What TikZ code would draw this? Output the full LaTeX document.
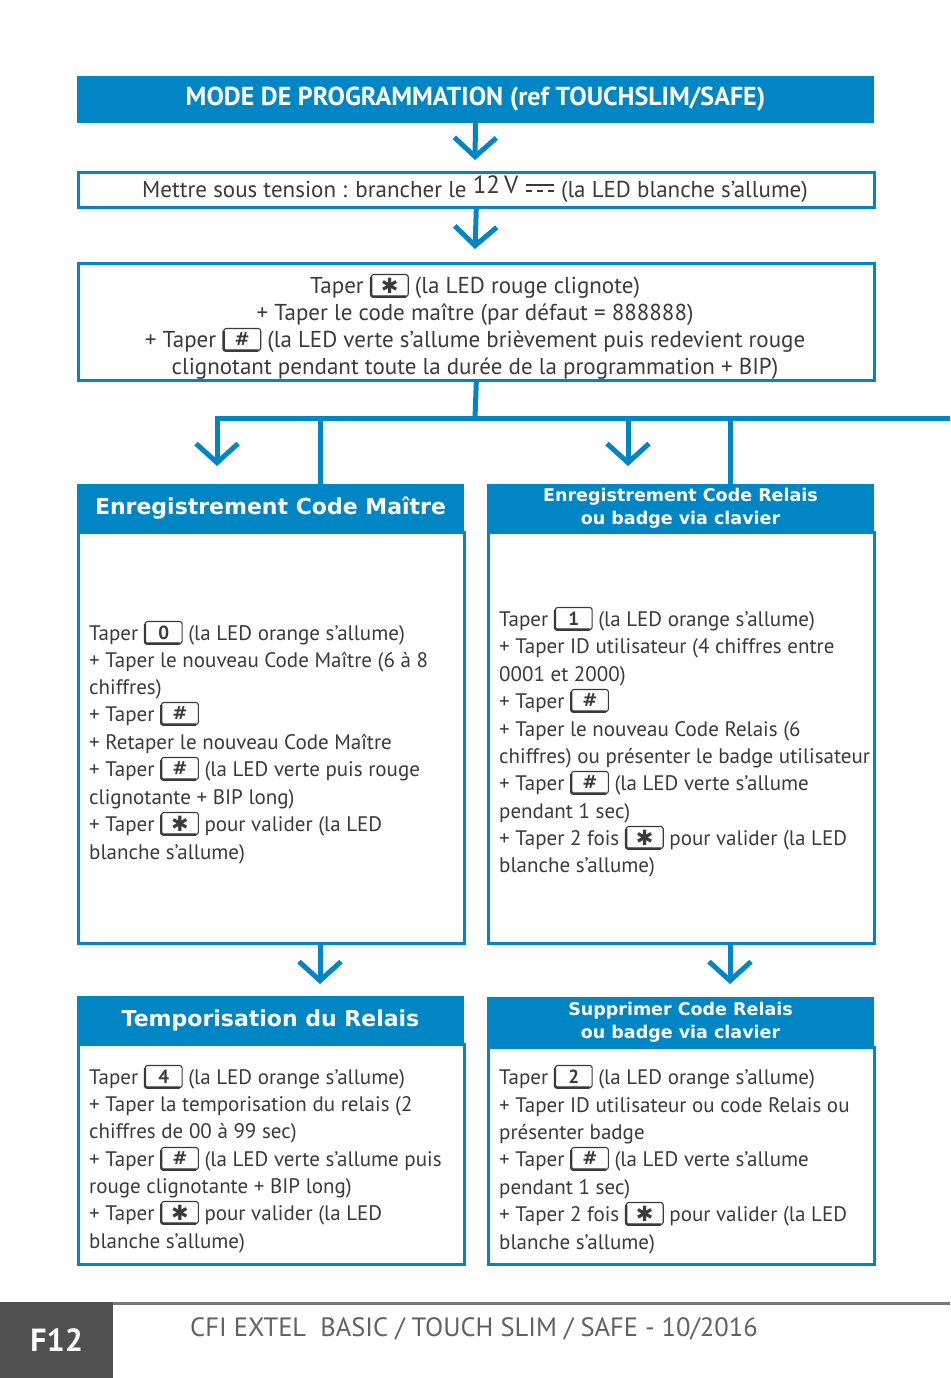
\documentclass[tikz,border=0pt]{standalone}
\usepackage{fontspec}
\setmainfont{PT Sans}
\newfontfamily\hdfont{DejaVu Sans}
\newfontfamily\symfont{DejaVu Sans}
\usetikzlibrary{arrows.meta}
\definecolor{cfiblue}{RGB}{0,134,196}
\definecolor{txtgray}{RGB}{58,58,58}
\definecolor{footgray}{RGB}{80,80,80}
\definecolor{linegray}{RGB}{120,120,120}
\newcommand\keyb[1]{\tikz[baseline={([yshift=-7.5pt]kb.center)}]{\node[draw=txtgray,line width=1.1pt,rounded corners=2.5pt,minimum width=37pt,minimum height=22pt,inner sep=0pt,text=txtgray,font=\fontsize{19}{19}\selectfont\bfseries] (kb) {#1};
\draw[txtgray,line width=2.4pt,rounded corners=2pt] ([xshift=0.4pt,yshift=-3pt]kb.north west) -- ([xshift=0.4pt,yshift=0.4pt]kb.south west) -- ([xshift=-3pt,yshift=0.4pt]kb.south east);}}
\newcommand\stark{\keyb{\symfont\fontsize{21}{21}\selectfont ✱}}
\newcommand\hashk{\keyb{\symfont\bfseries\fontsize{18}{18}\selectfont\#}}
\newcommand\dcsym{\tikz[baseline=0pt]{\draw[line width=2.4pt,txtgray] (0pt,12pt)--(28pt,12pt); \draw[line width=2.4pt,txtgray,dash pattern=on 6pt off 5pt] (0pt,6pt)--(28pt,6pt);}}
\newcommand\bodyln[4]{\node[bodytxt,anchor=base west] (#1) at (#2,#3) {#4};}
\newcommand\centln[3]{\node[toptxt,anchor=base] (#1) at (475,#2) {#3};}
\tikzset{
  bodytxt/.style={inner sep=0pt,text=txtgray,font=\fontsize{21}{27}\selectfont},
  toptxt/.style={inner sep=0pt,text=txtgray,font=\fontsize{23}{27}\selectfont},
  hdrbox/.style={fill=cfiblue,draw=cfiblue,line width=1pt,inner sep=0pt,anchor=north west,text=white},
  framebox/.style={draw=cfiblue,line width=2.6pt,inner sep=0pt,anchor=north west},
  conn/.style={draw=cfiblue,line width=5pt},
  tipd/.style={-{Straight Barb[length=19pt,width=42pt,sharp]}},
  bighd/.style={font=\hdfont\bfseries\fontsize{22}{24}\selectfont},
  smallhd/.style={font=\hdfont\bfseries\fontsize{17.5}{23}\selectfont,align=center},
}
\begin{document}
\begin{tikzpicture}[x=1pt,y=-1pt]
\useasboundingbox[fill=white] (0,0) rectangle (950,1378);
% main header
\node[hdrbox,minimum width=796pt,minimum height=46pt,font=\bfseries\fontsize{26}{27}\selectfont] (hdr) at (77,76) {MODE DE PROGRAMMATION (ref TOUCHSLIM/SAFE)};
% box 2
\node[framebox,minimum width=796pt,minimum height=35pt] (pw) at (77,171) {};
\centln{pwt}{197}{Mettre sous tension : brancher le \raisebox{4pt}{\fontsize{25}{25}\selectfont 12\,V} \dcsym{} (la LED blanche s’allume)}
% box 3
\node[framebox,minimum width=796pt,minimum height=117pt] (en) at (77,262) {};
\centln{en1}{293}{Taper \stark{} (la LED rouge clignote)}
\centln{en2}{320}{+ Taper le code maître (par défaut = 888888)}
\centln{en3}{347}{+ Taper \hashk{} (la LED verte s’allume brièvement puis redevient rouge}
\centln{en4}{374}{clignotant pendant toute la durée de la programmation + BIP)}
% arrows top
\coordinate (t1) at (475,160);
\coordinate (t2) at (475,249);
\draw[conn,tipd] (hdr.south) -- (t1);
\draw[conn,tipd] (pw.south) -- (t2);
% column boxes
\node[framebox,minimum width=386pt,minimum height=411pt] (b1) at (77,531) {};
\node[hdrbox,minimum width=386pt,minimum height=47pt,bighd] (h1) at (77,484) {Enregistrement Code Maître};
\node[framebox,minimum width=386pt,minimum height=411pt] (b2) at (487,531) {};
\node[hdrbox,minimum width=386pt,minimum height=47pt,smallhd] (h2) at (487,484) {Enregistrement Code Relais\\ou badge via clavier};
\node[framebox,minimum width=386pt,minimum height=220pt] (b3) at (77,1043) {};
\node[hdrbox,minimum width=386pt,minimum height=47pt,bighd] (h3) at (77,996) {Temporisation du Relais};
\node[framebox,minimum width=386pt,minimum height=217pt] (b4) at (487,1046) {};
\node[hdrbox,minimum width=386pt,minimum height=49pt,smallhd] (h4) at (487,997) {Supprimer Code Relais\\ou badge via clavier};
% branch
\coordinate (j0) at (475,418);
\coordinate (jl) at (217,418);
\coordinate (jr) at (950,418);
\coordinate (j1) at (320,418);
\coordinate (j3) at (628,418);
\coordinate (j4) at (730,418);
\coordinate (t3) at (217,466);
\coordinate (t4) at (628,466);
\draw[conn] (en.south) -- (j0);
\draw[conn,{Straight Barb[length=19pt,width=42pt,sharp]}-] (t3) -- (jl) -- (jr);
\draw[conn] (j1) -- (j1 |- h1.north);
\draw[conn,tipd] (j3) -- (t4);
\draw[conn] (j4) -- (j4 |- h2.north);
% lower arrows
\coordinate (t5) at (320,984);
\coordinate (t6) at (730,984);
\draw[conn,tipd] (b1.south -| t5) -- (t5);
\draw[conn,tipd] (b2.south -| t6) -- (t6);
% left body
\bodyln{a1}{89}{640}{Taper \keyb{0} (la LED orange s’allume)}
\bodyln{a2}{89}{667}{+ Taper le nouveau Code Maître (6 à 8}
\bodyln{a3}{89}{694}{chiffres)}
\bodyln{a4}{89}{721}{+ Taper \hashk}
\bodyln{a5}{89}{749}{+ Retaper le nouveau Code Maître}
\bodyln{a6}{89}{776}{+ Taper \hashk{} (la LED verte puis rouge}
\bodyln{a7}{89}{804}{clignotante + BIP long)}
\bodyln{a8}{89}{831}{+ Taper \stark{} pour valider (la LED}
\bodyln{a9}{89}{859}{blanche s’allume)}
% right body
\bodyln{c1}{499}{626}{Taper \keyb{1} (la LED orange s’allume)}
\bodyln{c2}{499}{653}{+ Taper ID utilisateur (4 chiffres entre}
\bodyln{c3}{499}{681}{0001 et 2000)}
\bodyln{c4}{499}{708}{+ Taper \hashk}
\bodyln{c5}{499}{736}{+ Taper le nouveau Code Relais (6}
\bodyln{c6}{499}{763}{chiffres) ou présenter le badge utilisateur}
\bodyln{c7}{499}{790}{+ Taper \hashk{} (la LED verte s’allume}
\bodyln{c8}{499}{818}{pendant 1 sec)}
\bodyln{c9}{499}{845}{+ Taper 2 fois \stark{} pour valider (la LED}
\bodyln{c10}{499}{872}{blanche s’allume)}
% bottom left
\bodyln{d1}{89}{1084}{Taper \keyb{4} (la LED orange s’allume)}
\bodyln{d2}{89}{1111}{+ Taper la temporisation du relais (2}
\bodyln{d3}{89}{1138}{chiffres de 00 à 99 sec)}
\bodyln{d4}{89}{1166}{+ Taper \hashk{} (la LED verte s’allume puis}
\bodyln{d5}{89}{1193}{rouge clignotante + BIP long)}
\bodyln{d6}{89}{1220}{+ Taper \stark{} pour valider (la LED}
\bodyln{d7}{89}{1248}{blanche s’allume)}
% bottom right
\bodyln{e1}{499}{1084}{Taper \keyb{2} (la LED orange s’allume)}
\bodyln{e2}{499}{1112}{+ Taper ID utilisateur ou code Relais ou}
\bodyln{e3}{499}{1139}{présenter badge}
\bodyln{e4}{499}{1166}{+ Taper \hashk{} (la LED verte s’allume}
\bodyln{e5}{499}{1194}{pendant 1 sec)}
\bodyln{e6}{499}{1221}{+ Taper 2 fois \stark{} pour valider (la LED}
\bodyln{e7}{499}{1249}{blanche s’allume)}
% footer
\node[fill=footgray,inner sep=0pt,minimum width=113pt,minimum height=76pt,anchor=north west,text=white,font=\bfseries\fontsize{32}{32}\selectfont] (pg) at (0,1302) {F12};
\coordinate (fe) at (950,1303.5);
\draw[line width=3pt,linegray] (pg.north east |- fe) -- (fe);
\node[inner sep=0pt,anchor=base west,text=footgray!90,font=\fontsize{26.5}{26.5}\selectfont] (ft) at (190,1336) {CFI EXTEL\ \ BASIC / TOUCH SLIM / SAFE - 10/2016};
\end{tikzpicture}
\end{document}
